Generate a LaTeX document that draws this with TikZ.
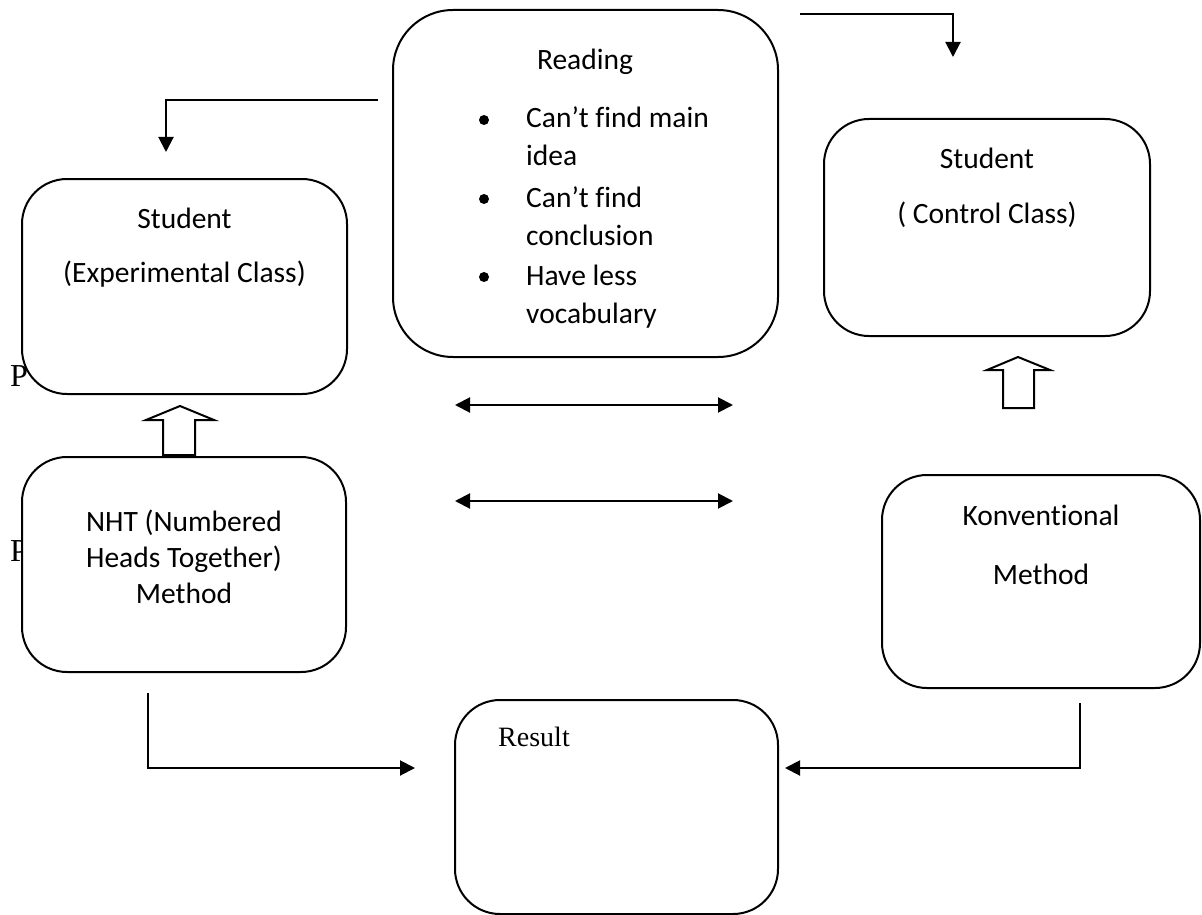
\documentclass[tikz,border=0pt]{standalone}
\usepackage{fontspec}
\setmainfont{Carlito}[Ligatures=CommonOff]
\newfontfamily\serifface{Liberation Serif}
\usetikzlibrary{arrows.meta}
\begin{document}
\begin{tikzpicture}[x=1pt,y=-1pt,
  box/.style={draw,line width=2pt,fill=white,rectangle,rounded corners=#1,inner sep=0pt},
  box/.default=45pt,
  lbl/.style={anchor=base,inner sep=0pt,font=\fontsize{29.5}{35}\selectfont},
  lblw/.style={anchor=base west,inner sep=0pt,font=\fontsize{29.5}{35}\selectfont},
  conn/.style={line width=2pt,-{Triangle[length=15pt,width=15pt]}},
  dconn/.style={line width=2pt,{Triangle[length=15pt,width=15pt]}-{Triangle[length=15pt,width=15pt]}},
  hollow/.style={draw,line width=2pt,fill=white,line join=miter}]
\useasboundingbox (0,0) rectangle (1202,915);

% stray letters partly hidden behind boxes
\node[anchor=base west,inner sep=0pt,font=\serifface\fontsize{32}{38}\selectfont] (p1) at (10,386) {P};
\node[anchor=base west,inner sep=0pt,font=\serifface\fontsize{32}{38}\selectfont] (p2) at (10,561) {P};

% boxes
\node[box=60pt,minimum width=385pt,minimum height=347pt] (reading) at (585.5,183.5) {};
\node[box,minimum width=325pt,minimum height=215pt] (exp) at (184.5,286.5) {};
\node[box,minimum width=326pt,minimum height=217pt] (ctrl) at (987,227.5) {};
\node[box,minimum width=324pt,minimum height=215pt] (nht) at (184,564.5) {};
\node[box,minimum width=318pt,minimum height=213pt] (konv) at (1041,581.5) {};
\node[box,minimum width=323pt,minimum height=214pt] (result) at (616.5,807) {};

% texts
\node[lbl] (t-reading) at (585,70) {Reading};
\foreach \yy in {128,207,285} { \fill (484,\yy-8) circle (5pt); }
\node[lblw] (r1) at (526,128) {Can’t find main};
\node[lblw] (r2) at (526,165) {idea};
\node[lblw] (r3) at (526,207) {Can’t find};
\node[lblw] (r4) at (526,245) {conclusion};
\node[lblw] (r5) at (526,285) {Have less};
\node[lblw] (r6) at (526,323) {vocabulary};

\node[lbl] (e1) at (184.5,228) {Student};
\node[lbl] (e2) at (184.5,282) {(Experimental Class)};

\node[lbl] (c1) at (987,168) {Student};
\node[lbl] (c2) at (987,223) {( Control Class)};

\node[lbl] (n1) at (184,531) {NHT (Numbered};
\node[lbl] (n2) at (184,567) {Heads Together)};
\node[lbl] (n3) at (184,603) {Method};

\node[lbl] (k1) at (1041,525) {Konventional};
\node[lbl] (k2) at (1041,584) {Method};

\node[anchor=base,inner sep=0pt,font=\serifface\fontsize{28}{34}\selectfont] (res) at (534,746) {Result};

% connectors
\coordinate (tl0) at (378,100);
\coordinate (tl1) at (166,152);
\draw[conn] (tl0) -| (tl1);
\coordinate (tr0) at (800,14);
\coordinate (tr1) at (953,57);
\draw[conn] (tr0) -| (tr1);

\coordinate (d1a) at (455,405);
\coordinate (d1b) at (733,405);
\draw[dconn] (d1a) -- (d1b);
\coordinate (d2a) at (455,501);
\coordinate (d2b) at (733,501);
\draw[dconn] (d2a) -- (d2b);

\coordinate (bl0) at (148,693);
\coordinate (bl1) at (415,768);
\draw[conn] (bl0) |- (bl1);
\coordinate (br0) at (1080,703);
\coordinate (br1) at (785,768);
\draw[conn] (br0) |- (br1);

% hollow up arrows
\draw[hollow] (180,406) -- (214,420) -- (195,420) -- (195,455) -- (163,455) -- (163,420) -- (146,420) -- cycle;
\draw[hollow] (1018,357) -- (1050,370) -- (1034,370) -- (1034,408) -- (1003,408) -- (1003,370) -- (987,370) -- cycle;
\end{tikzpicture}
\end{document}
